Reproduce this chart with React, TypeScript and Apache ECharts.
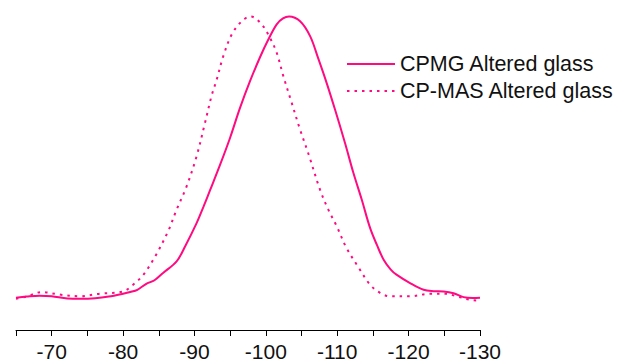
import React, { useEffect, useRef } from "react";
import * as echarts from "echarts";

// Chemical shift (ppm) and normalised intensity
const cpmgShift = [
  -65, -66.5, -68.3, -70, -72.2, -74, -76.1, -78, -80, -81, -82, -83.3, -84.4, -85.6, -87.5,
  -88.7, -90.3, -91.24, -92.2, -93.58, -94.98, -96.38, -97.78, -99.18, -100.35, -101.52,
  -102.4, -103.25, -104.8, -106.2, -107.35, -108.5, -109.69, -111.09, -112.26, -113.43,
  -114.6, -115.6, -116.5, -117.5, -118.3, -120.2, -122.1, -123.5, -124.9, -126.3, -127.7,
  -129, -130,
];
const cpmgIntensity = [
  0.0, 0.004, 0.007, 0.005, -0.003, -0.004, -0.002, 0.004, 0.014, 0.02, 0.028, 0.05, 0.062,
  0.088, 0.129, 0.183, 0.265, 0.322, 0.383, 0.472, 0.568, 0.675, 0.77, 0.855, 0.918, 0.972,
  0.993, 1.0, 0.983, 0.93, 0.85, 0.765, 0.669, 0.55, 0.444, 0.349, 0.248, 0.185, 0.135, 0.1,
  0.082, 0.052, 0.028, 0.023, 0.022, 0.016, 0.002, -0.001, 0.0,
];

const cpmasShift = [
  -65, -66.5, -68.6, -71.1, -73.9, -76.7, -80, -81.4, -82.8, -84.5, -86.3, -87.5, -88.9,
  -90.3, -91.48, -92.42, -93.12, -94.04, -95.22, -96.62, -97.88, -99.42, -100.58, -101.52,
  -102.45, -103.62, -104.79, -106.0, -107.59, -108.75, -109.93, -111.3, -112.9, -114.6,
  -116.0, -117.4, -120.2, -123.0, -125.3, -126.7, -129.5, -130,
];
const cpmasIntensity = [
  -0.004, 0.004, 0.02, 0.011, 0.005, 0.014, 0.022, 0.046, 0.08, 0.147, 0.236, 0.313, 0.396,
  0.503, 0.622, 0.72, 0.776, 0.859, 0.936, 0.983, 1.0, 0.972, 0.924, 0.871, 0.788, 0.693,
  0.598, 0.509, 0.384, 0.313, 0.254, 0.177, 0.111, 0.046, 0.017, 0.005, 0.005, 0.014, 0.014,
  0.005, -0.01, -0.01,
];

const seriesNames = ["CPMG Altered glass", "CP-MAS Altered glass"];
const color = "#ff0a80";
const font = "'Liberation Sans', Arial, sans-serif";

export default function App() {
  const ref = useRef<HTMLDivElement>(null);
  useEffect(() => {
    if (!ref.current) return;
    const chart = echarts.init(ref.current, null, { renderer: "svg" });
    chart.setOption({
      animation: false,
      backgroundColor: "#ffffff",
      grid: { left: 16, right: 138, top: 16.5, bottom: 34 },
      legend: {
        orient: "vertical",
        left: 346,
        top: 53,
        padding: 0,
        itemWidth: 48,
        itemHeight: 14,
        itemGap: 5,
        itemStyle: { opacity: 0 },
        textStyle: { fontFamily: font, fontSize: 21.5, color: "#111", lineHeight: 21 },
        data: seriesNames,
      },
      xAxis: {
        type: "value",
        min: -130,
        max: -65,
        interval: 5,
        inverse: true,
        splitLine: { show: false },
        axisLine: { show: true, onZero: false, lineStyle: { color: "#000", width: 1 } },
        axisTick: { show: true, length: 6, lineStyle: { color: "#000", width: 1 } },
        axisLabel: {
          fontFamily: font,
          fontSize: 21,
          color: "#111",
          margin: 11,
          showMinLabel: true,
          showMaxLabel: true,
          formatter: (v: number) => (Math.round(v) % 10 === 0 ? String(v) : ""),
        },
      },
      yAxis: {
        type: "value",
        min: -0.115,
        max: 1.0,
        show: false,
        splitLine: { show: false },
      },
      series: [
        {
          name: seriesNames[0],
          type: "line",
          data: cpmgShift.map((x, i) => [x, cpmgIntensity[i]]),
          smooth: 0.35,
          symbol: "none",
          clip: false,
          lineStyle: { color, width: 2, type: "solid" },
          itemStyle: { color },
        },
        {
          name: seriesNames[1],
          type: "line",
          data: cpmasShift.map((x, i) => [x, cpmasIntensity[i]]),
          smooth: 0.35,
          symbol: "none",
          clip: false,
          lineStyle: { color, width: 2, type: [2.5, 5] },
          itemStyle: { color },
        },
      ],
    });
    return () => chart.dispose();
  }, []);
  return <div ref={ref} style={{ width: 618, height: 364, position: "absolute", left: 0, top: 0 }} />;
}
